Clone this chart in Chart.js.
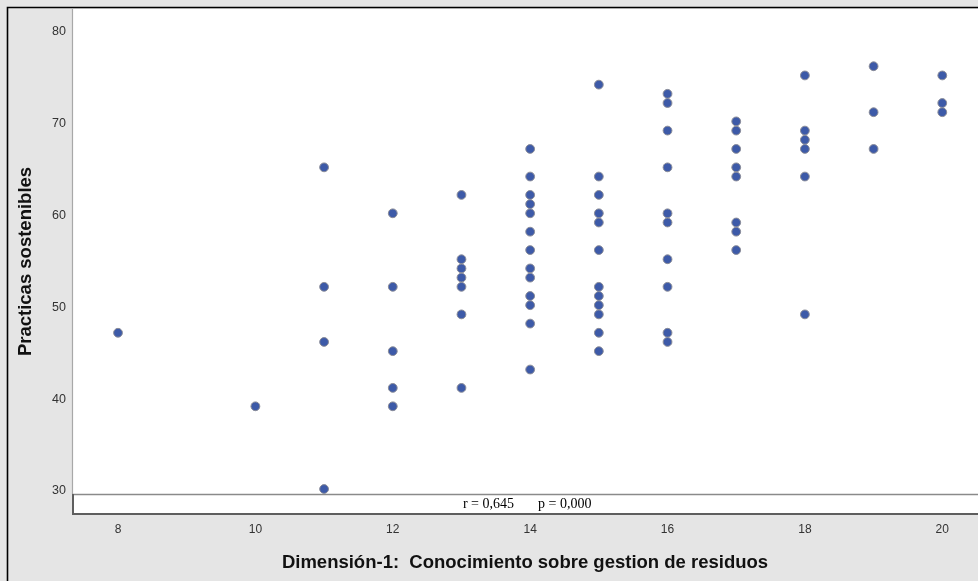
<!DOCTYPE html>
<html>
<head>
<meta charset="utf-8">
<script src="https://cdn.jsdelivr.net/npm/chart.js@4/dist/chart.umd.min.js"></script>
<style>
  html, body { margin: 0; padding: 0; background: #e5e5e5; }
  #wrap { width: 978px; height: 581px; }
</style>
</head>
<body>
<div id="wrap"><canvas id="c" width="978" height="581"></canvas></div>
<script>
// Dimensión-1 score levels and the "Practicas sostenibles" values observed at each level
const xLevels = [8, 10, 11, 12, 13, 14, 15, 16, 17, 18, 19, 20];
const yAt8  = [47];
const yAt10 = [39];
const yAt11 = [65, 52, 46, 30];
const yAt12 = [60, 52, 45, 41, 39];
const yAt13 = [62, 55, 54, 53, 52, 49, 41];
const yAt14 = [67, 64, 62, 61, 60, 58, 56, 54, 53, 51, 50, 48, 43];
const yAt15 = [74, 64, 62, 60, 59, 56, 52, 51, 50, 49, 47, 45];
const yAt16 = [73, 72, 69, 65, 60, 59, 55, 52, 47, 46];
const yAt17 = [70, 69, 67, 65, 64, 59, 58, 56];
const yAt18 = [75, 69, 68, 67, 64, 49];
const yAt19 = [76, 71, 67];
const yAt20 = [75, 72, 71];
const yGroups = [yAt8, yAt10, yAt11, yAt12, yAt13, yAt14, yAt15, yAt16, yAt17, yAt18, yAt19, yAt20];

const xTicks = [8, 10, 12, 14, 16, 18, 20];
const yTicks = [30, 40, 50, 60, 70, 80];

const xTitle = 'Dimensión-1:  Conocimiento sobre gestion de residuos';
const yTitle = 'Practicas sostenibles';
const statR = 'r = 0,645';
const statP = 'p = 0,000';

const points = [];
xLevels.forEach((x, i) => yGroups[i].forEach(y => points.push({ x: x, y: y })));

const FONT = '"Liberation Sans", Arial, Helvetica, sans-serif';

const framePlugin = {
  id: 'frame',
  beforeDraw(chart) {
    const { ctx, chartArea: a, width, height } = chart;
    ctx.save();
    ctx.fillStyle = '#e5e5e5';
    ctx.fillRect(0, 0, width, height);
    ctx.fillStyle = '#ffffff';
    ctx.fillRect(a.left, a.top, a.right - a.left, a.bottom - a.top);
    // outer black frame (top and left)
    ctx.strokeStyle = '#000000';
    ctx.lineWidth = 1.6;
    ctx.beginPath();
    ctx.moveTo(7.5, height);
    ctx.lineTo(7.5, 7.5);
    ctx.lineTo(width, 7.5);
    ctx.stroke();
    // light left edge of plot
    ctx.strokeStyle = '#a8a8a8';
    ctx.lineWidth = 1.2;
    ctx.beginPath();
    ctx.moveTo(a.left + 0.5, a.top);
    ctx.lineTo(a.left + 0.5, a.bottom - 20);
    ctx.stroke();
    ctx.restore();
  },
  beforeDatasetsDraw(chart) {
    const { ctx, chartArea: a } = chart;
    const boxTop = a.bottom - 20;
    ctx.save();
    ctx.fillStyle = '#ffffff';
    ctx.fillRect(a.left, boxTop, a.right - a.left, a.bottom - boxTop);
    ctx.strokeStyle = '#8a8a8a';
    ctx.lineWidth = 1.5;
    ctx.beginPath();
    ctx.moveTo(a.left, boxTop + 0.5);
    ctx.lineTo(a.right, boxTop + 0.5);
    ctx.stroke();
    ctx.strokeStyle = '#5e5e5e';
    ctx.lineWidth = 2;
    ctx.beginPath();
    ctx.moveTo(a.left + 1, boxTop);
    ctx.lineTo(a.left + 1, a.bottom);
    ctx.lineTo(a.right, a.bottom);
    ctx.stroke();
    const cx = (a.left + a.right) / 2;
    const ty = boxTop + 10.5;
    ctx.fillStyle = '#000000';
    ctx.font = '14px "Liberation Serif", "Times New Roman", serif';
    ctx.textBaseline = 'middle';
    ctx.textAlign = 'right';
    ctx.fillText(statR, cx - 11, ty);
    ctx.textAlign = 'left';
    ctx.fillText(statP, cx + 13, ty);
    ctx.restore();
  }
};

new Chart(document.getElementById('c'), {
  type: 'scatter',
  data: {
    datasets: [{
      data: points,
      backgroundColor: '#3d5aa8',
      borderColor: '#8a8c98',
      borderWidth: 1,
      pointRadius: 4.4,
      pointHoverRadius: 4.4
    }]
  },
  options: {
    responsive: false,
    animation: false,
    devicePixelRatio: 1,
    layout: { autoPadding: false, padding: { top: 9, right: 0, bottom: 0, left: 0 } },
    plugins: { legend: { display: false }, tooltip: { enabled: false } },
    scales: {
      x: {
        type: 'linear',
        min: 7.33,
        max: 20.52,
        afterBuildTicks(scale) { scale.ticks = xTicks.map(v => ({ value: v })); },
        afterFit(scale) { scale.height = 67; scale.paddingLeft = 0; scale.paddingRight = 0; },
        grid: { display: false, drawTicks: false },
        border: { display: false },
        ticks: { padding: 8, color: '#333333', font: { family: FONT, size: 12 }, maxRotation: 0 },
        title: {
          display: true, text: xTitle, color: '#111111',
          font: { family: FONT, size: 18.5, weight: 'bold' },
          padding: { top: 0, bottom: 7 }
        }
      },
      y: {
        type: 'linear',
        min: 27.28,
        max: 82.23,
        afterBuildTicks(scale) { scale.ticks = yTicks.map(v => ({ value: v })); },
        afterFit(scale) { scale.width = 72; scale.paddingTop = 0; scale.paddingBottom = 0; },
        grid: { display: false, drawTicks: false },
        border: { display: false },
        ticks: { padding: 6, labelOffset: 2, color: '#333333', font: { family: FONT, size: 12.5 } },
        title: {
          display: true, text: yTitle, color: '#111111',
          font: { family: FONT, size: 18.5, weight: 'bold' },
          padding: { top: 15, bottom: 0 }
        }
      }
    }
  },
  plugins: [framePlugin]
});
</script>
</body>
</html>
